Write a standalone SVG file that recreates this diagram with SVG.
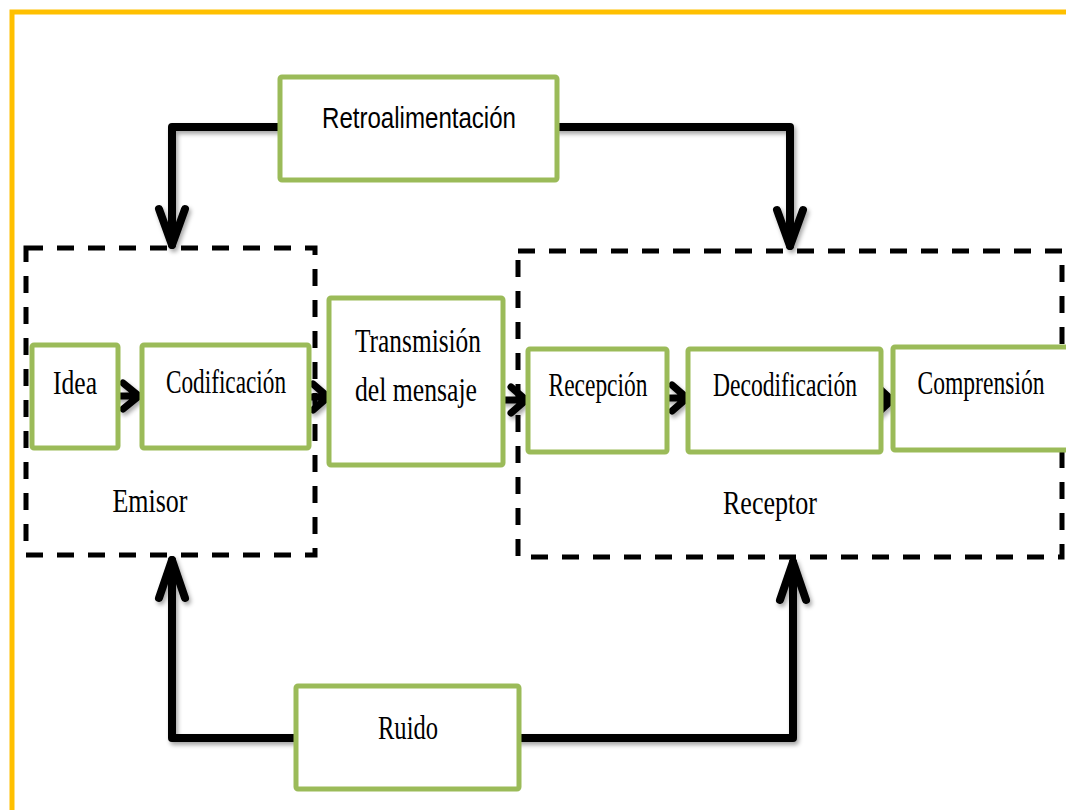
<svg xmlns="http://www.w3.org/2000/svg" width="1066" height="810" viewBox="0 0 1066 810">
<defs>
<filter id="sh" x="-20%" y="-20%" width="140%" height="140%">
<feDropShadow dx="2" dy="3" stdDeviation="2" flood-color="#000" flood-opacity="0.35"/>
</filter>
</defs>
<style>
.node{fill:#fff;stroke:#9BBB59;stroke-width:5}
.grp{fill:none;stroke:#000;stroke-width:5;stroke-dasharray:17 14}
.conn{fill:none;stroke:#000;stroke-width:8;stroke-linecap:round;stroke-linejoin:round}
.sm{fill:none;stroke:#000;stroke-width:7;stroke-linecap:round;stroke-linejoin:round}
.t{font-family:"Liberation Serif","Times New Roman",serif;font-size:34px;fill:#000}
.s{font-family:"Liberation Sans",Arial,sans-serif;font-size:29px;fill:#000}
</style>
<rect x="12" y="12" width="1100" height="900" fill="#fff" stroke="#FFC000" stroke-width="5"/>

<g id="connectors" filter="url(#sh)">
<path class="conn" d="M280 127 H172 V245"/>
<path class="conn" d="M159 209 L172 245 L185 209"/>
<path class="conn" d="M557 127 H790 V246"/>
<path class="conn" d="M777 210 L790 246 L803 210"/>
<path class="conn" d="M296 738 H172 V560"/>
<path class="conn" d="M159 598 L172 560 L185 598"/>
<path class="conn" d="M519 738 H793 V562"/>
<path class="conn" d="M780 600 L793 562 L806 600"/>
<path class="sm" d="M118 396 H138 M123 383 L139 396 L123 409"/>
<path class="sm" d="M309 397 H327 M313 384 L328 397 L313 410"/>
<path class="sm" d="M504 400 H526 M511 387 L526 400 L511 413"/>
<path class="sm" d="M668 398 H686 M672 385 L687 398 L672 411"/>
<path class="sm" d="M882 400 H892 M878 387 L892 400 L878 413"/>
</g>

<g id="emisor">
<rect class="grp" x="26" y="248" width="289" height="307"/>
<text class="t" x="150" y="512" text-anchor="middle" textLength="75" lengthAdjust="spacingAndGlyphs">Emisor</text>
</g>
<g id="receptor">
<rect class="grp" x="518" y="251" width="544" height="306"/>
<text class="t" x="770" y="514" text-anchor="middle" textLength="94" lengthAdjust="spacingAndGlyphs">Receptor</text>
</g>

<g id="retroalimentacion">
<rect class="node" x="280" y="77" width="277" height="103" rx="2"/>
<text class="s" x="419" y="128" text-anchor="middle" textLength="194" lengthAdjust="spacingAndGlyphs">Retroalimentación</text>
</g>
<g id="idea">
<rect class="node" x="32" y="345" width="86" height="103" rx="2"/>
<text class="t" x="75" y="394" text-anchor="middle" textLength="44" lengthAdjust="spacingAndGlyphs">Idea</text>
</g>
<g id="codificacion">
<rect class="node" x="142" y="345" width="167" height="103" rx="2"/>
<text class="t" x="226" y="393" text-anchor="middle" textLength="120" lengthAdjust="spacingAndGlyphs">Codificación</text>
</g>
<g id="transmision">
<rect class="node" x="329" y="298" width="174" height="167" rx="2"/>
<text class="t" x="418" y="352" text-anchor="middle" textLength="126" lengthAdjust="spacingAndGlyphs">Transmisión</text>
<text class="t" x="416" y="401" text-anchor="middle" textLength="122" lengthAdjust="spacingAndGlyphs">del mensaje</text>
</g>
<g id="recepcion">
<rect class="node" x="528" y="349" width="139" height="103" rx="2"/>
<text class="t" x="598" y="396" text-anchor="middle" textLength="99" lengthAdjust="spacingAndGlyphs">Recepción</text>
</g>
<g id="decodificacion">
<rect class="node" x="688" y="349" width="193" height="103" rx="2"/>
<text class="t" x="785" y="396" text-anchor="middle" textLength="144" lengthAdjust="spacingAndGlyphs">Decodificación</text>
</g>
<g id="comprension">
<rect class="node" x="893" y="347" width="180" height="103" rx="2"/>
<text class="t" x="981" y="394" text-anchor="middle" textLength="127" lengthAdjust="spacingAndGlyphs">Comprensión</text>
</g>
<g id="ruido">
<rect class="node" x="296" y="686" width="223" height="103" rx="2"/>
<text class="t" x="408" y="739" text-anchor="middle" textLength="60" lengthAdjust="spacingAndGlyphs">Ruido</text>
</g>
</svg>
